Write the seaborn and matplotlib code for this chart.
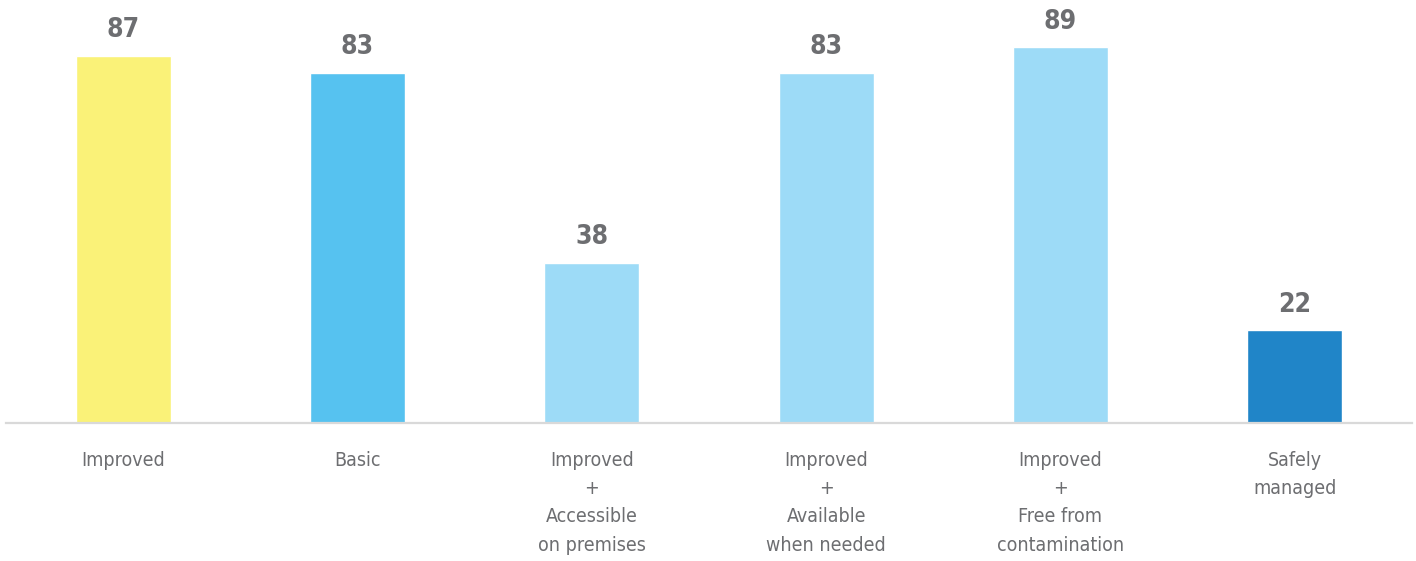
import matplotlib
matplotlib.use("Agg")
import matplotlib.pyplot as plt
from matplotlib import font_manager
import pandas as pd
import seaborn as sns

categories = ["Improved", "Basic", "Improved\n+\nAccessible\non premises",
              "Improved\n+\nAvailable\nwhen needed", "Improved\n+\nFree from\ncontamination",
              "Safely\nmanaged"]
values = [87, 83, 38, 83, 89, 22]
colors = ["#FAF278", "#56C2F0", "#9DDBF7", "#9DDBF7", "#9DDBF7", "#2085C8"]

df = pd.DataFrame({"cat": categories, "val": values})

names = sorted({f.name for f in font_manager.fontManager.ttflist})
print(names)
print([(f.name, f.stretch, f.weight) for f in font_manager.fontManager.ttflist if "DejaVu" in f.name or "Narrow" in f.name or "Condensed" in f.name])

sns.set_style("white")
plt.rcParams["font.family"] = ["DejaVu Sans", "Liberation Sans"]
plt.rcParams["font.stretch"] = "condensed"
grey = "#6D6E71"

fig = plt.figure(figsize=(14.16, 5.61), dpi=100)
ax = fig.add_axes([6 / 1416, 138 / 561, 1406 / 1416, 422 / 561])

sns.barplot(data=df, x="cat", y="val", hue="cat", palette=colors,
            width=0.405, legend=False, ax=ax, saturation=1)

for c in ax.containers:
    ax.bar_label(c, padding=9, fontsize=19, fontweight="bold", color=grey,
                 fontstretch="condensed")

ax.set_xlim(-0.5, 5.5)
ax.set_ylim(0, 100)
ax.set_xlabel("")
ax.set_ylabel("")
ax.set_yticks([])
for s in ["top", "right", "left"]:
    ax.spines[s].set_visible(False)
ax.spines["bottom"].set_color("#D9D9D9")
ax.spines["bottom"].set_linewidth(1.6)
ax.tick_params(axis="x", length=0, pad=20, labelsize=14, labelcolor=grey)
for t in ax.get_xticklabels():
    t.set_linespacing(1.62)
    t.set_fontstretch("condensed")

fig.savefig("out.png", dpi=100)
